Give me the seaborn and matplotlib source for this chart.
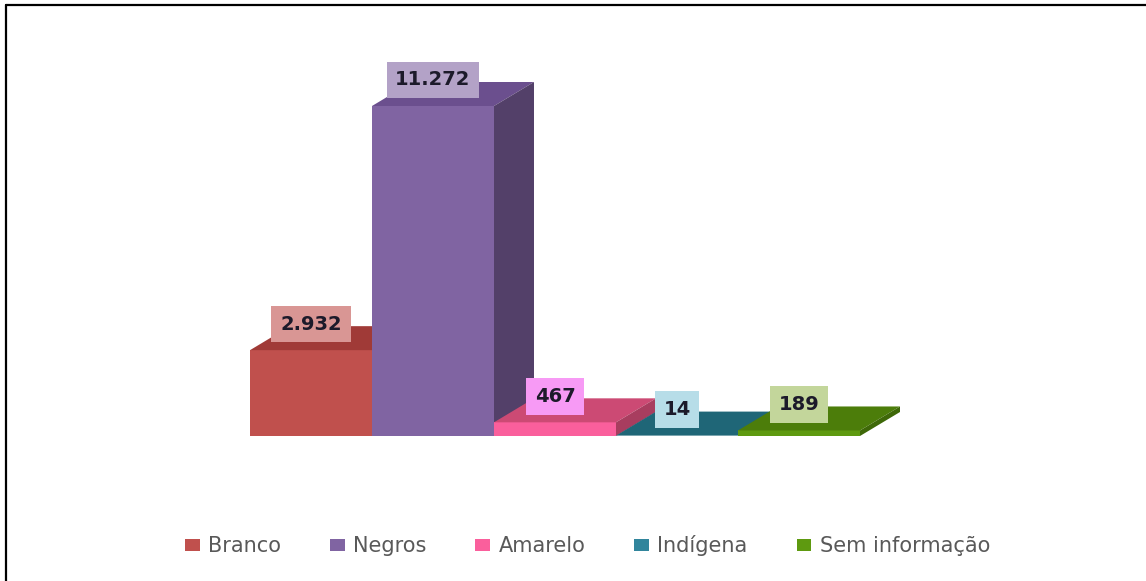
import matplotlib
matplotlib.use("Agg")
import matplotlib.pyplot as plt
from matplotlib.patches import Polygon, Patch
from matplotlib.lines import Line2D
import seaborn as sns
import pandas as pd

categories = ["Branco", "Negros", "Amarelo", "Indígena", "Sem informação"]
values = [2932, 11272, 467, 14, 189]
value_labels = ["2.932", "11.272", "467", "14", "189"]

front_colors = ["#C0504D", "#8064A2", "#FA5F9C", "#31859C", "#5E9A10"]
top_colors = ["#A03A37", "#6B4F8E", "#CC4A74", "#1F6677", "#4C7D0A"]
side_colors = ["#8C3533", "#534069", "#A83D5F", "#1A5463", "#3E6808"]
label_bg = ["#D99694", "#B3A2C7", "#F79AF5", "#B7DDE8", "#C3D69B"]

sns.set_theme(style="white")
plt.rcParams['font.family'] = ['DejaVu Sans']

W, H, DPI = 1146, 581, 100
fig = plt.figure(figsize=(W / DPI, H / DPI), dpi=DPI)
ax = fig.add_axes([0, 0, 1, 1])

df = pd.DataFrame({"cat": categories, "val": values})
sns.barplot(data=df, x="cat", y="val", hue="cat", palette=front_colors,
            width=1.0, saturation=1, legend=False, ax=ax, linewidth=0)

# pixel mapping
bar_px = 122.0
x0_px = 311.0
floor_px = 436.0
k = 330.0 / 11272.0  # px per unit
ax.set_xlim((0 - x0_px) / bar_px, (W - x0_px) / bar_px)
ax.set_ylim(-(H - floor_px) / k, floor_px / k)
ax.axis("off")

dx = 40.0 / bar_px
dy = 24.0 / k

patches = sorted(ax.patches, key=lambda p: p.get_x())
for i, p in enumerate(patches):
    x = p.get_x(); w = p.get_width(); h = p.get_height()
    z = 2 + i * 3
    p.set_zorder(z)
    top = Polygon([[x, h], [x + w, h], [x + w + dx, h + dy], [x + dx, h + dy]],
                  closed=True, facecolor=top_colors[i], edgecolor="none", zorder=z + 1)
    side = Polygon([[x + w, 0], [x + w + dx, dy], [x + w + dx, h + dy], [x + w, h]],
                   closed=True, facecolor=side_colors[i], edgecolor="none", zorder=z + 1)
    ax.add_patch(top)
    ax.add_patch(side)

for i, p in enumerate(patches):
    x = p.get_x(); w = p.get_width(); h = p.get_height()
    ax.text(x + w / 2, h + 26.0 / k, value_labels[i], ha="center", va="center",
            fontsize=14, fontweight="bold", color="#1C1A2A", zorder=50,
            bbox=dict(boxstyle="square,pad=0.45", facecolor=label_bg[i], edgecolor="none"))

handles = [Patch(facecolor=c, edgecolor="none") for c in front_colors]
leg = fig.legend(handles, categories, loc="center", bbox_to_anchor=(587.5 / W, 1 - 546 / H),
                 ncol=5, frameon=False, handlelength=0.7, handleheight=0.45,
                 handletextpad=0.4, columnspacing=2.36,
                 prop={"family": "DejaVu Sans", "size": 15})
for t in leg.get_texts():
    t.set_color("#595959")

fig.add_artist(Line2D([6 / W, 1], [1 - 5 / H, 1 - 5 / H], color="black", lw=1.6))
fig.add_artist(Line2D([6 / W, 6 / W], [0, 1 - 5 / H], color="black", lw=1.6))

fig.savefig("out.png", dpi=DPI, facecolor="white")
